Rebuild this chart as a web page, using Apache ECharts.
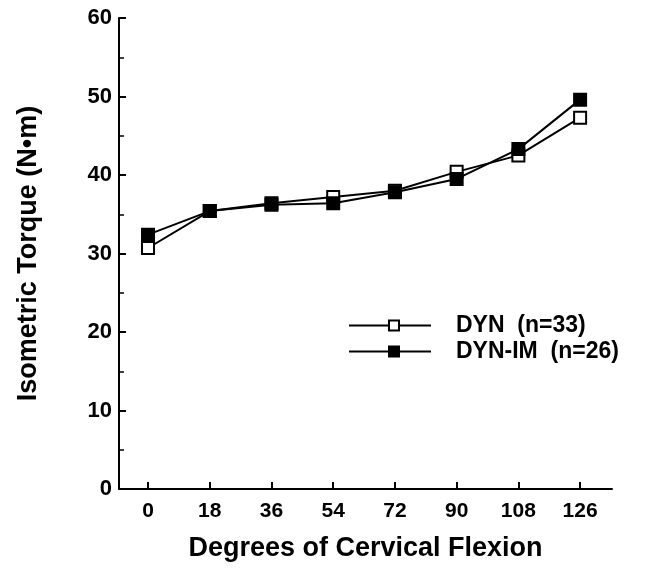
<!DOCTYPE html>
<html>
<head>
<meta charset="utf-8">
<script src="https://cdn.jsdelivr.net/npm/echarts@6/dist/echarts.min.js"></script>
<style>
html,body{margin:0;padding:0;background:#fff;}
#chart{width:652px;height:570px;}
</style>
</head>
<body>
<div id="chart"></div>
<script>
var degrees = [0, 18, 36, 54, 72, 90, 108, 126];
var yTicks = [0, 10, 20, 30, 40, 50, 60];
var dynName = 'DYN  (n=33)';
var dynImName = 'DYN-IM  (n=26)';
var dynValues = [30.7, 35.4, 36.4, 37.2, 38.0, 40.4, 42.5, 47.3];
var dynImValues = [32.4, 35.4, 36.2, 36.4, 37.8, 39.5, 43.3, 49.6];

var FONT = '"Liberation Sans", Arial, Helvetica, sans-serif';

function pairs(xs, ys) {
  return xs.map(function (x, i) { return [x, ys[i]]; });
}

var legendIcon = 'path://M0,5L40,5M40,0L50,0L50,10L40,10Z M50,5L82,5';

var chart = echarts.init(document.getElementById('chart'), null, {renderer: 'canvas'});
chart.setOption({
  animation: false,
  backgroundColor: '#fff',
  grid: {left: 119, top: 18, width: 493, height: 471, containLabel: false},
  xAxis: {
    type: 'value',
    min: -8.46,
    max: 135.3,
    name: 'Degrees of Cervical Flexion',
    nameLocation: 'middle',
    nameGap: 46,
    nameTextStyle: {fontFamily: FONT, fontWeight: 'bold', fontSize: 27, color: '#000'},
    axisLine: {show: true, onZero: false, lineStyle: {color: '#000', width: 2}},
    axisTick: {show: true, inside: true, length: 7, customValues: degrees, lineStyle: {color: '#000', width: 2}},
    axisLabel: {customValues: degrees, margin: 12, fontFamily: FONT, fontWeight: 'bold', fontSize: 21, color: '#000'},
    splitLine: {show: false}
  },
  yAxis: {
    type: 'value',
    min: 0,
    max: 60,
    interval: 10,
    name: 'Isometric Torque (N\u2022m)',
    nameLocation: 'middle',
    nameGap: 77,
    nameRotate: 90,
    nameTextStyle: {fontFamily: FONT, fontWeight: 'bold', fontSize: 27, color: '#000'},
    axisLine: {show: true, onZero: false, lineStyle: {color: '#000', width: 2}},
    axisTick: {show: true, inside: true, length: 7, lineStyle: {color: '#000', width: 2}},
    minorTick: {show: true, splitNumber: 2, length: 5, lineStyle: {color: '#000', width: 1.5}},
    axisLabel: {margin: 7, fontFamily: FONT, fontWeight: 'bold', fontSize: 22, color: '#000',
      formatter: function (v) { return yTicks.indexOf(v) >= 0 ? String(v) : ''; }},
    splitLine: {show: false}
  },
  legend: {
    orient: 'vertical',
    left: 343,
    top: 309,
    itemWidth: 82,
    itemHeight: 10,
    itemGap: 3,
    textStyle: {fontFamily: FONT, fontWeight: 'bold', fontSize: 23, color: '#000', padding: [0, 0, 0, 20]},
    data: [
      {name: dynName, icon: legendIcon, itemStyle: {color: '#fff', borderColor: '#000', borderWidth: 2}},
      {name: dynImName, icon: legendIcon, itemStyle: {color: '#000', borderColor: '#000', borderWidth: 2}}
    ]
  },
  series: [
    {
      name: dynName,
      type: 'line',
      data: pairs(degrees, dynValues),
      symbol: 'rect',
      symbolSize: 12,
      lineStyle: {color: '#000', width: 2},
      itemStyle: {color: '#fff', borderColor: '#000', borderWidth: 2},
      z: 2
    },
    {
      name: dynImName,
      type: 'line',
      data: pairs(degrees, dynImValues),
      symbol: 'rect',
      symbolSize: 12,
      lineStyle: {color: '#000', width: 2},
      itemStyle: {color: '#000', borderColor: '#000', borderWidth: 2},
      z: 3
    }
  ]
});
</script>
</body>
</html>
